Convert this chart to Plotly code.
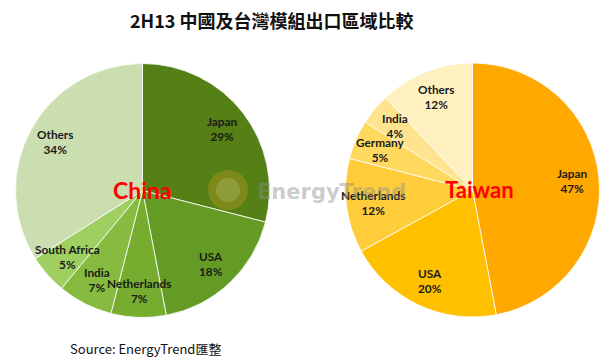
import math
import plotly.graph_objects as go

W, H = 613, 360

china_labels = ["Japan", "USA", "Netherlands", "India", "South Africa", "Others"]
china_values = [29, 18, 7, 7, 5, 34]
china_colors = ["#548016", "#649b24", "#76ad2f", "#86bb3f", "#9fcf60", "#cadeb0"]

taiwan_labels = ["Japan", "USA", "Netherlands", "Germany", "India", "Others"]
taiwan_values = [47, 20, 12, 5, 4, 12]
taiwan_colors = ["#ffa800", "#ffc000", "#ffcd3a", "#ffd85e", "#ffe38e", "#fff0c0"]

title = "2H13 中國及台灣模組出口區域比較"
source = "Source: EnergyTrend匯整"

# pie geometry in pixels (center x, center y from top, radius)
R = 127
pies = [
    dict(name="China", labels=china_labels, values=china_values, colors=china_colors, cx=142.5, cy=190.5),
    dict(name="Taiwan", labels=taiwan_labels, values=taiwan_values, colors=taiwan_colors, cx=472.5, cy=190.0),
]

LABEL_FONT = "Lato, 'Open Sans', sans-serif"

fig = go.Figure()
annotations = []
for p in pies:
    cx, cy = p["cx"], p["cy"]
    fig.add_trace(go.Pie(
        labels=p["labels"], values=p["values"], sort=False, direction="clockwise",
        rotation=0, textinfo="none", hoverinfo="label+percent",
        marker=dict(colors=p["colors"], line=dict(color="rgba(255,255,255,0.8)", width=1)),
        domain=dict(x=[(cx - R) / W, (cx + R) / W], y=[1 - (cy + R) / H, 1 - (cy - R) / H]),
        showlegend=False,
    ))
    total = sum(p["values"])
    cum = 0
    for lab, v in zip(p["labels"], p["values"]):
        mid = (cum + v / 2) / total * 2 * math.pi
        cum += v
        px = cx + 0.79 * R * math.sin(mid)
        py = cy - 0.79 * R * math.cos(mid)
        pct = round(v / total * 100)
        annotations.append(dict(
            x=px / W, y=1 - py / H, xref="paper", yref="paper",
            text=f"<b>{lab}<br>{pct}%</b>", showarrow=False,
            font=dict(family=LABEL_FONT, size=11.8, color="#1a1a1a"),
            xanchor="center", yanchor="middle",
        ))
    annotations.append(dict(
        x=(cx + (0 if p["name"] == "China" else 7)) / W, y=1 - (cy - 1) / H,
        xref="paper", yref="paper", text=f"<b>{p['name']}</b>", showarrow=False,
        font=dict(family="Lato, sans-serif", size=23 if p["name"] == "China" else 22, color="#ff0000"),
        xanchor="center", yanchor="middle",
    ))

# watermark
annotations.append(dict(
    x=331 / W, y=1 - 192 / H, xref="paper", yref="paper", text="<b>EnergyTrend</b>",
    showarrow=False, font=dict(family="'DejaVu Sans', sans-serif", size=21, color="rgba(140,140,140,0.45)"),
    xanchor="center", yanchor="middle",
))
# title and source
annotations.append(dict(
    x=272 / W, y=1 - 20 / H, xref="paper", yref="paper", text=f"<b>{title}</b>",
    showarrow=False, font=dict(family="'Noto Sans CJK TC', sans-serif", size=18, color="#111111"),
    xanchor="center", yanchor="middle",
))
annotations.append(dict(
    x=68 / W, y=1 - 348 / H, xref="paper", yref="paper", text=source,
    showarrow=False, font=dict(family="'Noto Sans CJK TC', 'Open Sans', sans-serif", size=13, color="#111111"),
    xanchor="left", yanchor="middle",
))

shapes = [
    dict(type="circle", xref="paper", yref="paper",
         x0=208 / W, x1=248 / W, y0=1 - 210 / H, y1=1 - 170 / H,
         fillcolor="rgba(235,165,40,0.28)", line=dict(width=0)),
    dict(type="circle", xref="paper", yref="paper",
         x0=216 / W, x1=240 / W, y0=1 - 202 / H, y1=1 - 178 / H,
         fillcolor="rgba(200,215,150,0.25)", line=dict(width=0)),
]

fig.update_layout(
    width=W, height=H, margin=dict(l=0, r=0, t=0, b=0),
    paper_bgcolor="white", plot_bgcolor="white",
    annotations=annotations, shapes=shapes,
)
fig.write_html("out.html", config={"displayModeBar": False},
               post_script="document.body.style.margin='0';")
